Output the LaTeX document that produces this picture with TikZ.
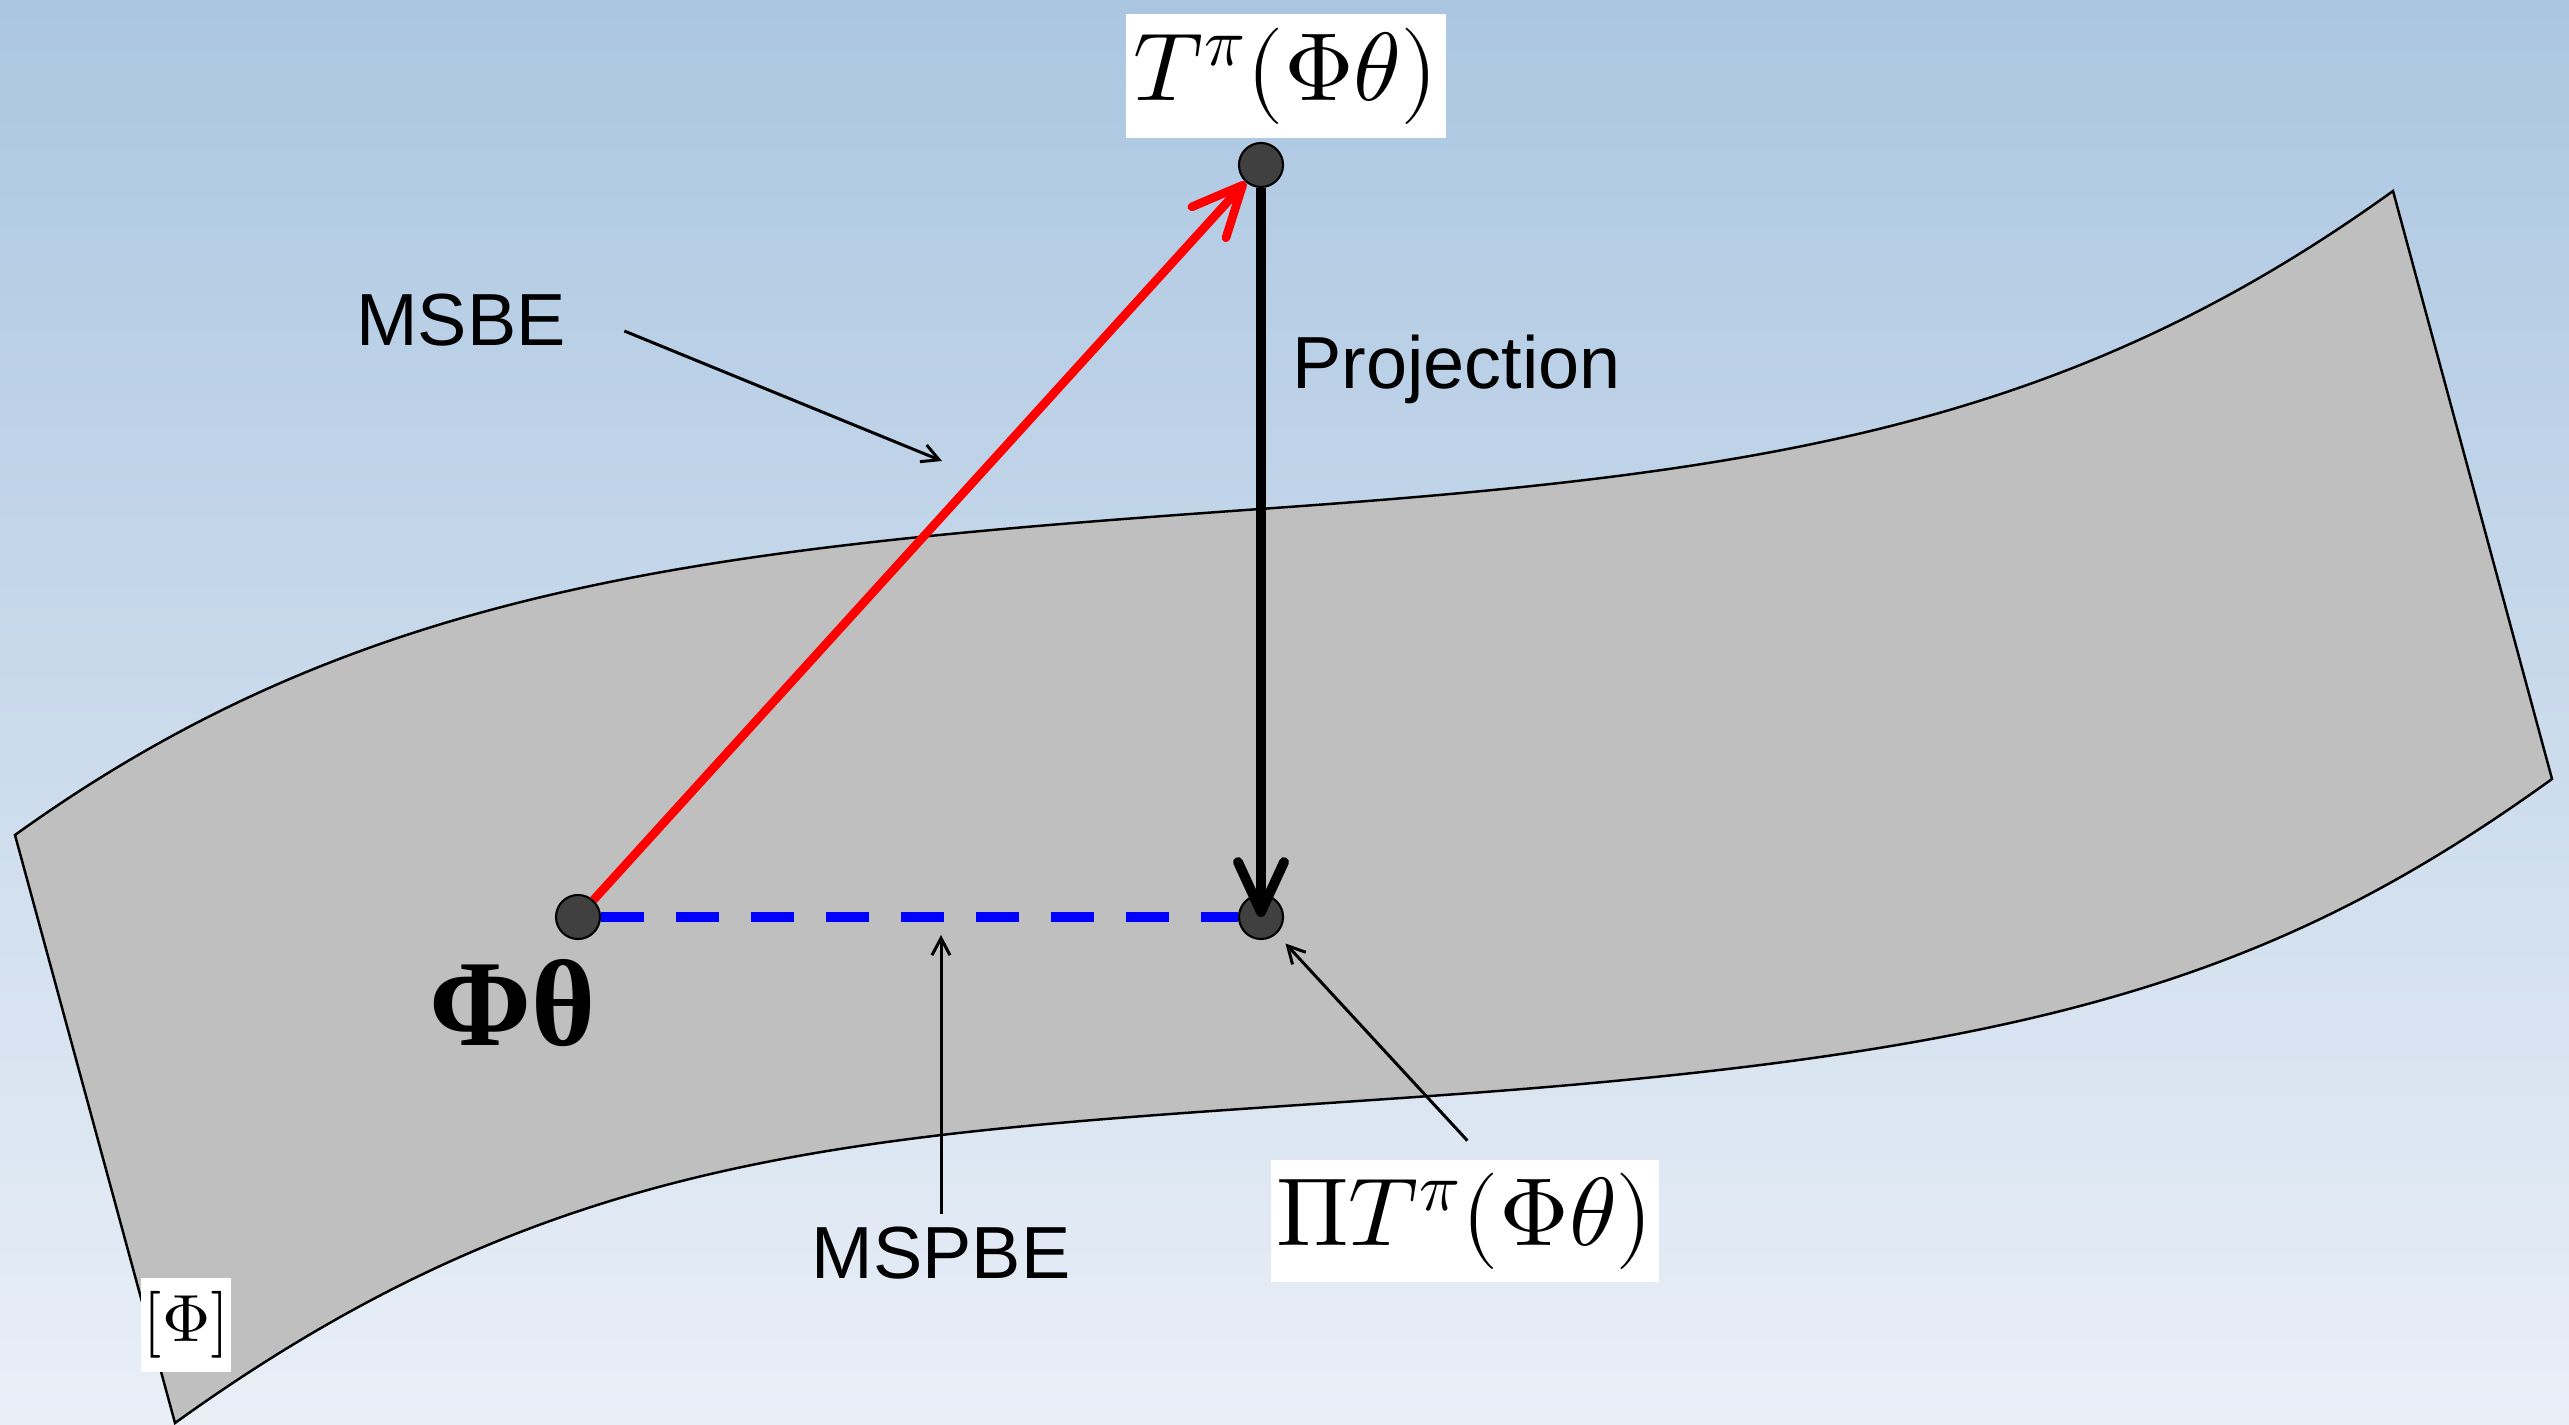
\documentclass[tikz,border=0pt]{standalone}
\usepackage{amsmath, amssymb}
\usepackage{fontspec}
\usepackage{unicode-math}
\setsansfont{Liberation Sans}
\newfontfamily\timesfont{Liberation Serif}
\usetikzlibrary{arrows.meta}

\definecolor{bgtop}{RGB}{171,198,225}
\definecolor{bgbot}{RGB}{233,239,247}
\definecolor{surfgray}{RGB}{191,191,191}
\definecolor{dotgray}{RGB}{64,64,64}

\begin{document}
\begin{tikzpicture}[x=0.01cm, y=-0.01cm,
    pt/.style={circle, fill=dotgray, draw=black, line width=0.6pt, minimum size=4.4mm, inner sep=0pt},
    bigtip/.style={-{Straight Barb[length=5mm, width=4.6mm, round]}},
    smalltip/.style={-{Straight Barb[length=1.7mm, width=1.8mm]}, line width=0.85pt},
    lbl/.style={font=\sffamily\fontsize{21}{25}\selectfont},
    mathbox/.style={fill=white, inner sep=0pt, font=\fontsize{27.5}{32}\selectfont}]

    % background
    \useasboundingbox (0,0) rectangle (2569,1425);
    \shade[top color=bgtop, bottom color=bgbot] (0,0) rectangle (2569,1425);

    % the surface
    \filldraw[fill=surfgray, draw=black, line width=0.7pt]
      (15,835) .. controls (365,583) and (710,548) .. (1260,509)
      .. controls (1760,474) and (2063,429) .. (2393,191)
      -- (2552,779)
      .. controls (2272,981) and (2030,1054) .. (1430,1096)
      .. controls (880,1135) and (575,1135) .. (175,1423)
      -- cycle;

    % points
    \node[pt] (phith) at (578,917) {};
    \node[pt] (proj) at (1261,917) {};
    \node[pt] (tpi) at (1261,165) {};

    % errors and projection
    \draw[blue, line width=2.8pt, dash pattern=on 4.3mm off 3.2mm] (phith) -- (proj);
    \draw[bigtip, red, line width=2.45pt] (phith) -- (tpi);
    \draw[bigtip, line width=2.8pt] (tpi) -- (proj.center);

    % labels
    \node[mathbox, minimum width=3.19cm, minimum height=1.23cm] (tlabel) at (1286,76) {$T^{\pi}(\Phi\theta)$};
    \node[mathbox, minimum width=3.88cm, minimum height=1.21cm] (pilabel) at (1465,1221) {$\Pi T^{\pi}(\Phi\theta)$};
    \node[fill=white, inner sep=0pt, minimum width=0.89cm, minimum height=0.94cm, font=\fontsize{19}{22}\selectfont] (philabel) at (186,1325) {$[\Phi]$};
    \node[anchor=base, font=\timesfont\bfseries\fontsize{35}{40}\selectfont] (phitheta) at (513,1045) {Φθ};
    \node[lbl, anchor=base] (msbe) at (461,346) {MSBE};
    \node[lbl, anchor=base west] (projlbl) at (1280,389) {Projection};
    \node[lbl, anchor=base] (mspbe) at (941,1278) {MSPBE};

    % pointers
    \coordinate (msbetip) at (942,461);
    \coordinate (mspbetip) at (941,935);
    \draw[smalltip, shorten <=5mm] ([yshift=0.85mm]msbe.east) -- (msbetip);
    \draw[smalltip] (mspbe.north) -- (mspbetip);
    \draw[smalltip, shorten <=2.6mm, shorten >=1.3mm] ([xshift=2mm]pilabel.north) -- (proj);
\end{tikzpicture}
\end{document}
